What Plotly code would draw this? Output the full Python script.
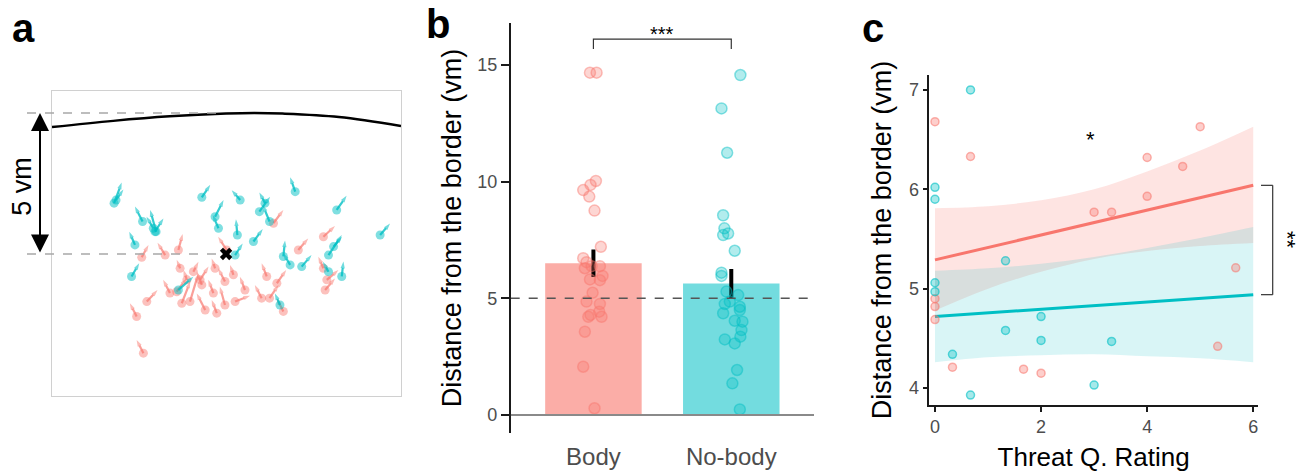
import plotly.graph_objects as go

# ---------------- Panel a : movement vectors (vm, origin at the cross) ----------------
teal_x = [-3.97, -3.90, -2.96, -2.48, -2.52, -2.58, -3.23, -3.35, -0.86, -0.39, -0.27, 0.40, 0.50,
          2.45, 1.18, 1.38, 1.54, 0.97, 3.92, 5.46, 0.32, 2.03, 2.27, 2.68, 3.63, 3.81, 4.10, 3.63,
          -1.69, 1.91]
teal_y = [1.80, 1.91, 1.15, 0.79, 0.79, 0.91, 0.32, -0.80, 2.01, 1.32, 0.91, 0.67, 1.91,
          2.21, 1.50, 1.80, 1.15, 0.44, 1.56, 0.67, -0.04, -0.09, -0.39, -0.45, -0.04, 0.26, -0.80, -0.63,
          -1.28, -1.81]
teal_dx = [0.27, 0.26, -0.27, -0.21, 0.30, -0.24, -0.20, 0.27, 0.30, 0.30, -0.20, -0.05, -0.30,
           -0.18, 0.38, -0.20, -0.24, 0.33, 0.35, 0.35, 0.27, 0.06, -0.24, 0.35, 0.47, 0.30, 0.06, -0.20,
           0.53, -0.18]
teal_dy = [0.73, 0.38, 0.53, 0.77, 0.47, 0.41, 0.47, 0.47, 0.44, 0.59, 0.47, 0.56, 0.35,
           0.51, 0.53, 0.38, 0.59, 0.44, 0.50, 0.41, 0.41, 0.57, 0.41, 0.41, 0.71, 0.35, 0.53, 0.35,
           0.47, 0.41]

red_x = [-2.99, -2.16, -1.69, 0.02, 1.68, 3.45, 2.56, 3.45, -3.17, -2.81, -2.93, -1.99, -1.57, -1.28,
         -0.74, -0.33, -0.04, -1.63, -1.16, -0.39, -0.04, -0.86, -1.75, 0.26, 0.67, 1.44, 0.32, 1.26,
         1.54, 1.80, 2.03, 3.51, 3.57, -0.92, -1.39, -0.45]
red_y = [-0.12, -0.04, 0.14, 0.14, 1.09, 0.61, 0.14, -0.51, -2.22, -1.69, -3.52, -1.39, -1.75, -1.69,
         -1.99, -2.10, -1.81, -0.51, -0.63, -0.51, -0.98, -1.10, -1.34, -0.74, -1.28, -0.80, -1.69, -1.57,
         -1.57, -1.04, -2.04, -1.28, -0.92, -0.92, -0.92, -1.39]
red_dx = [0.24, -0.27, 0.15, -0.30, 0.35, 0.41, 0.35, -0.18, -0.24, 0.38, -0.24, -0.24, 0.30, 0.30,
          -0.30, -0.18, -0.18, -0.12, 0.18, -0.12, -0.24, -0.18, 0.35, -0.12, -0.18, -0.18, 0.53, -0.24,
          0.32, 0.33, -0.24, 0.35, 0.41, 0.30, -0.12, -0.18]
red_dy = [0.44, 0.44, 0.57, 0.47, 0.47, 0.38, 0.41, 0.41, 0.47, 0.41, 0.47, 0.47, 0.77, 1.00,
          0.59, 0.47, 0.65, 0.30, 0.35, 0.35, 0.47, 0.47, 0.47, 0.35, 0.47, 0.47, 0.21, 0.47,
          0.47, 0.47, 0.47, 0.41, 0.35, 0.47, 0.35, 0.47]

border_x = [-6.17, -4.0, -2.0, 0.0, 1.0, 2.0, 4.0, 6.2]
border_y = [4.50, 4.72, 4.88, 4.98, 5.00, 4.98, 4.86, 4.54]

# ---------------- Panel b : bar chart ----------------
groups = ["Body", "No-body"]
group_pos = [1, 2]
group_mean = [6.50, 5.64]
group_se = [0.59, 0.62]
body_vals = [14.67, 14.67, 10.03, 9.64, 9.86, 9.36, 8.76, 7.21, 6.72, 6.55, 6.29, 6.38, 6.38,
             5.96, 5.81, 5.78, 5.24, 4.86, 4.76, 4.43, 4.21, 4.29, 4.21, 3.57, 2.07, 0.29]
body_jit = [-0.025, 0.023, 0.018, -0.074, -0.021, -0.030, 0.008, 0.054, -0.074, -0.050, -0.062,
            -0.013, 0.047, 0.066, -0.025, 0.047, -0.006, -0.050, 0.047, 0.042, -0.037, -0.021,
            0.059, -0.062, -0.074, 0.008]
nobody_vals = [14.57, 13.14, 11.24, 8.56, 8.00, 7.71, 7.78, 7.04, 6.10, 5.96, 5.29, 5.14, 4.86,
               4.76, 4.64, 4.50, 4.36, 4.04, 4.00, 3.64, 3.36, 3.24, 3.07, 1.93, 1.36, 0.24]
nobody_jit = [0.066, -0.071, -0.030, -0.059, -0.050, -0.059, -0.023, 0.025, -0.071, -0.071, -0.035,
              0.050, -0.011, -0.047, 0.062, 0.062, -0.059, 0.025, 0.081, 0.074, 0.066, -0.047,
              0.025, 0.042, 0.008, 0.062]
chance_level = 5

# ---------------- Panel c : regression ----------------
c_red_x = [0, 0.67, 0, 0, 0, 0.33, 1.67, 2, 3, 3.33, 4, 4, 4.67, 5.0, 5.33, 5.67]
c_red_y = [6.68, 6.33, 4.90, 4.82, 4.69, 4.21, 4.19, 4.15, 5.77, 5.77, 6.32, 5.93, 6.23, 6.63, 4.42, 5.21]
c_teal_x = [0.67, 0, 0, 0, 0, 0.33, 0.67, 1.33, 1.33, 2, 2, 3.33, 3.0]
c_teal_y = [7.00, 6.02, 5.90, 5.06, 4.97, 4.34, 3.93, 5.28, 4.58, 4.72, 4.48, 4.47, 4.03]
fit_x = [0, 6]
red_fit = [5.29, 6.04]
teal_fit = [4.72, 4.94]
band_x = [0, 1, 2, 3, 4, 5, 6]
red_upper = [5.81, 5.83, 5.89, 6.00, 6.18, 6.39, 6.63]
red_lower = [4.78, 5.00, 5.17, 5.30, 5.38, 5.43, 5.46]
teal_upper = [5.18, 5.205, 5.25, 5.32, 5.41, 5.51, 5.62]
teal_lower = [4.26, 4.31, 4.33, 4.34, 4.32, 4.30, 4.26]

RED = "#F8766D"
TEAL = "#00BFC4"
FONT = "Liberation Sans, Arial, sans-serif"

fig = go.Figure()


def arrow_trace(xs, ys, dxs, dys, color):
    lx, ly, sizes = [], [], []
    for x, y, dx, dy in zip(xs, ys, dxs, dys):
        lx += [x, x + dx, None]
        ly += [y, y + dy, None]
        sizes += [0, 7, 0]
    return go.Scatter(x=lx, y=ly, mode="lines+markers", xaxis="x", yaxis="y",
                      line=dict(color=color, width=2.2),
                      marker=dict(symbol="arrow", size=sizes, angleref="previous", color=color,
                                  line=dict(width=0)),
                      hoverinfo="skip", showlegend=False)


# panel a
fig.add_trace(go.Scatter(x=border_x, y=border_y, mode="lines", line=dict(color="black", width=2.5, shape="spline"),
                         xaxis="x", yaxis="y", showlegend=False, hoverinfo="skip"))
fig.add_trace(go.Scatter(x=red_x, y=red_y, mode="markers", xaxis="x", yaxis="y",
                         marker=dict(size=9, color="rgba(248,118,109,0.45)", line=dict(width=0)), showlegend=False))
fig.add_trace(arrow_trace(red_x, red_y, red_dx, red_dy, "rgba(248,118,109,0.7)"))
fig.add_trace(go.Scatter(x=teal_x, y=teal_y, mode="markers", xaxis="x", yaxis="y",
                         marker=dict(size=9, color="rgba(0,191,196,0.5)", line=dict(width=0)), showlegend=False))
fig.add_trace(arrow_trace(teal_x, teal_y, teal_dx, teal_dy, "rgba(0,191,196,0.8)"))
fig.add_trace(go.Scatter(x=[0], y=[0], mode="markers", xaxis="x", yaxis="y",
                         marker=dict(symbol="x", size=11, color="black", line=dict(width=0)), showlegend=False))

# panel b
fig.add_trace(go.Bar(x=group_pos, y=group_mean, width=0.70, xaxis="x2", yaxis="y2",
                     marker=dict(color=["rgba(248,118,109,0.6)", "rgba(0,191,196,0.55)"], line=dict(width=0)),
                     error_y=dict(type="data", array=group_se, color="black", thickness=4, width=0),
                     showlegend=False))
fig.add_trace(go.Scatter(x=[group_pos[0] + j for j in body_jit], y=body_vals, mode="markers",
                         xaxis="x2", yaxis="y2", showlegend=False,
                         marker=dict(size=11, color="rgba(248,118,109,0.3)",
                                     line=dict(color="rgba(248,118,109,0.45)", width=1.5))))
fig.add_trace(go.Scatter(x=[group_pos[1] + j for j in nobody_jit], y=nobody_vals, mode="markers",
                         xaxis="x2", yaxis="y2", showlegend=False,
                         marker=dict(size=11, color="rgba(0,191,196,0.3)",
                                     line=dict(color="rgba(0,191,196,0.45)", width=1.5))))

# panel c
fig.add_trace(go.Scatter(x=band_x, y=red_lower, mode="lines", line=dict(width=0, shape="spline"),
                         xaxis="x3", yaxis="y3", showlegend=False, hoverinfo="skip"))
fig.add_trace(go.Scatter(x=band_x, y=red_upper, mode="lines", line=dict(width=0, shape="spline"),
                         fill="tonexty", fillcolor="rgba(248,118,109,0.2)",
                         xaxis="x3", yaxis="y3", showlegend=False, hoverinfo="skip"))
fig.add_trace(go.Scatter(x=band_x, y=teal_lower, mode="lines", line=dict(width=0, shape="spline"),
                         xaxis="x3", yaxis="y3", showlegend=False, hoverinfo="skip"))
fig.add_trace(go.Scatter(x=band_x, y=teal_upper, mode="lines", line=dict(width=0, shape="spline"),
                         fill="tonexty", fillcolor="rgba(0,191,196,0.15)",
                         xaxis="x3", yaxis="y3", showlegend=False, hoverinfo="skip"))
fig.add_trace(go.Scatter(x=fit_x, y=red_fit, mode="lines", line=dict(color=RED, width=3),
                         xaxis="x3", yaxis="y3", showlegend=False))
fig.add_trace(go.Scatter(x=fit_x, y=teal_fit, mode="lines", line=dict(color=TEAL, width=3),
                         xaxis="x3", yaxis="y3", showlegend=False))
fig.add_trace(go.Scatter(x=c_red_x, y=c_red_y, mode="markers", xaxis="x3", yaxis="y3", showlegend=False,
                         marker=dict(size=8, color="rgba(248,118,109,0.35)",
                                     line=dict(color="rgba(248,118,109,0.55)", width=1.5))))
fig.add_trace(go.Scatter(x=c_teal_x, y=c_teal_y, mode="markers", xaxis="x3", yaxis="y3", showlegend=False,
                         marker=dict(size=8, color="rgba(0,191,196,0.35)",
                                     line=dict(color="rgba(0,191,196,0.6)", width=1.5))))

W, H = 1300, 472
AX_DARK = "#1a1a1a"
TICK_GRAY = "#4d4d4d"

shapes = [
    # panel a dashed guides
    dict(type="line", xref="paper", yref="y", x0=27 / W, x1=224 / W, y0=5, y1=5,
         line=dict(color="#a8a8a8", width=1.5, dash="dash")),
    dict(type="line", xref="paper", yref="y", x0=27 / W, x1=222 / W, y0=0, y1=0,
         line=dict(color="#a8a8a8", width=1.5, dash="dash")),
    # panel b reference lines
    dict(type="line", xref="x2", yref="y2", x0=0.4, x1=2.6, y0=0, y1=0, line=dict(color="#8a8a8a", width=2)),
    dict(type="line", xref="x2", yref="y2", x0=0.4, x1=2.6, y0=chance_level, y1=chance_level,
         line=dict(color="#555555", width=1.5, dash="dash")),
    dict(type="path", xref="x2", yref="y2", path="M 1,15.69 L 1,16.11 L 2,16.11 L 2,15.69",
         line=dict(color="#333333", width=1.2)),
    # panel c bracket
    dict(type="line", xref="paper", yref="y3", x0=1272.7 / W, x1=1272.7 / W, y0=teal_fit[1], y1=red_fit[1],
         line=dict(color="#333333", width=1.2)),
    dict(type="line", xref="paper", yref="y3", x0=1261 / W, x1=1272.7 / W, y0=teal_fit[1], y1=teal_fit[1],
         line=dict(color="#333333", width=1.2)),
    dict(type="line", xref="paper", yref="y3", x0=1261 / W, x1=1272.7 / W, y0=red_fit[1], y1=red_fit[1],
         line=dict(color="#333333", width=1.2)),
]

annotations = [
    dict(text="<b>a</b>", xref="paper", yref="paper", x=10 / W, y=1 - 28 / H, xanchor="left", yanchor="middle",
         showarrow=False, font=dict(size=40, color="black", family=FONT)),
    dict(text="<b>b</b>", xref="paper", yref="paper", x=424 / W, y=1 - 24 / H, xanchor="left", yanchor="middle",
         showarrow=False, font=dict(size=40, color="black", family=FONT)),
    dict(text="<b>c</b>", xref="paper", yref="paper", x=860 / W, y=1 - 28 / H, xanchor="left", yanchor="middle",
         showarrow=False, font=dict(size=40, color="black", family=FONT)),
    # 5 vm double arrow
    dict(text="", xref="paper", yref="y", x=40 / W, y=5, ax=0, ay=141, axref="pixel", ayref="pixel",
         showarrow=True, arrowhead=2, arrowside="end+start", arrowsize=1.8, arrowwidth=2, arrowcolor="black"),
    dict(text="5 vm", xref="paper", yref="y", x=22 / W, y=2.38, textangle=-90, showarrow=False,
         xanchor="center", yanchor="middle", font=dict(size=27, color="black", family=FONT)),
    # significance
    dict(text="***", xref="x2", yref="y2", x=1.5, y=15.75, yanchor="bottom", showarrow=False,
         font=dict(size=20, color="black", family=FONT)),
    dict(text="*", xref="x3", yref="y3", x=2.93, y=6.5, showarrow=False,
         font=dict(size=22, color="black", family=FONT)),
    dict(text="**", xref="paper", yref="y3", x=1288 / W, y=5.49, textangle=90, showarrow=False,
         xanchor="center", yanchor="middle", font=dict(size=22, color="black", family=FONT)),
]

fig.update_layout(
    width=W, height=H, margin=dict(l=0, r=0, t=0, b=0),
    paper_bgcolor="white", plot_bgcolor="rgba(0,0,0,0)",
    font=dict(family=FONT),
    showlegend=False,
    xaxis=dict(domain=[52 / W, 401 / W], range=[-6.17, 6.20], showline=True, mirror=True, linecolor="#d0d0d0",
               linewidth=1, showgrid=False, zeroline=False, showticklabels=False, ticks="", anchor="y"),
    yaxis=dict(domain=[1 - 396 / H, 1 - 91 / H], range=[-5.04, 5.78], showline=True, mirror=True,
               linecolor="#d0d0d0", linewidth=1, showgrid=False, zeroline=False, showticklabels=False,
               ticks="", anchor="x"),
    xaxis2=dict(domain=[510.7 / W, 814 / W], range=[0.4, 2.6], anchor="y2", tickvals=group_pos, ticktext=groups,
                showline=False, ticks="", showgrid=False, zeroline=False, ticklabelstandoff=7,
                tickfont=dict(size=24, color=TICK_GRAY, family=FONT)),
    yaxis2=dict(domain=[1 - 433 / H, 1 - 23 / H], range=[-0.77, 16.8], anchor="x2", showline=True,
                linecolor=AX_DARK, linewidth=1.5, ticks="outside", ticklen=8, tickwidth=1.5, tickcolor=AX_DARK,
                tickvals=[0, 5, 10, 15], showgrid=False, zeroline=False,
                tickfont=dict(size=18, color=TICK_GRAY, family=FONT),
                title=dict(text="Distance from the border (vm)", font=dict(size=27, color="black", family=FONT),
                           standoff=8)),
    xaxis3=dict(domain=[929.3 / W, 1258 / W], range=[-0.107, 6.09], anchor="y3", showline=True,
                linecolor=AX_DARK, linewidth=1.5, ticks="outside", ticklen=5, tickwidth=1.5, tickcolor=AX_DARK,
                tickvals=[0, 2, 4, 6], showgrid=False, zeroline=False,
                tickfont=dict(size=18, color=TICK_GRAY, family=FONT),
                title=dict(text="Threat Q. Rating", font=dict(size=26, color="black", family=FONT), standoff=11)),
    yaxis3=dict(domain=[1 - 405 / H, 1 - 75 / H], range=[3.83, 7.15], anchor="x3", showline=True,
                linecolor=AX_DARK, linewidth=1.5, ticks="outside", ticklen=5, tickwidth=1.5, tickcolor=AX_DARK,
                tickvals=[4, 5, 6, 7], showgrid=False, zeroline=False,
                tickfont=dict(size=18, color=TICK_GRAY, family=FONT),
                title=dict(text="Distance from the border (vm)", font=dict(size=27, color="black", family=FONT),
                           standoff=9)),
    shapes=shapes,
    annotations=annotations,
)

fig.write_html("out.html")
